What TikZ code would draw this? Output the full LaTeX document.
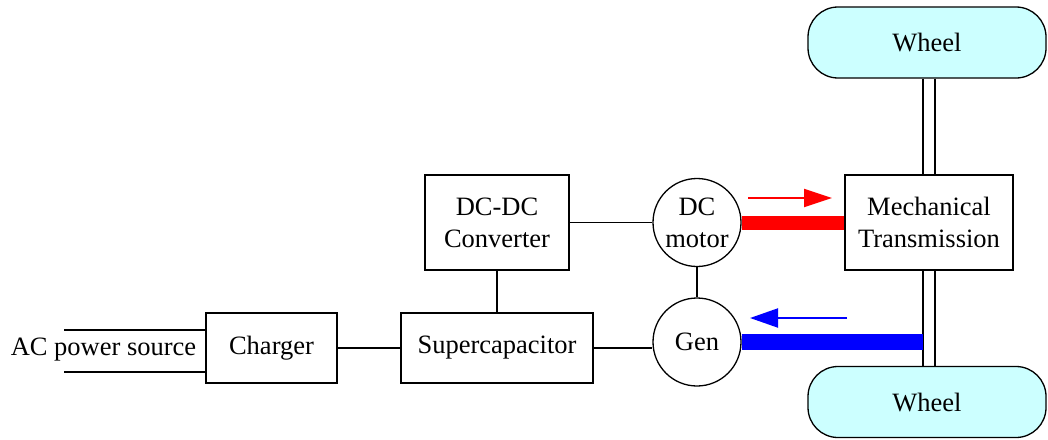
\documentclass[tikz,border=0pt]{standalone}
\usepackage{fontspec}
\setmainfont{Liberation Serif}
\usetikzlibrary{arrows.meta,calc}
\definecolor{wheelfill}{HTML}{CCFFFF}
\begin{document}
\begin{tikzpicture}[x=1pt,y=-1pt,
  every node/.style={font=\fontsize{26.5}{32}\selectfont, align=center, inner sep=0pt},
  blk/.style={draw, line width=1.3pt, rectangle},
  circ/.style={draw, line width=1.3pt, circle, minimum size=88pt},
  wheel/.style={draw, line width=1.3pt, rectangle, rounded corners=30pt, fill=wheelfill, minimum width=238pt, minimum height=71pt},
  conn/.style={line width=1.3pt},
  redbar/.style={line width=14pt, draw=red},
  bluebar/.style={line width=16pt, draw=blue},
  redarr/.style={line width=2pt, red, -{Triangle[length=28pt,width=18pt]}},
  bluearr/.style={line width=2pt, blue, -{Triangle[length=28pt,width=19pt]}}
]
\useasboundingbox (0,0) rectangle (1048,439);
\node[wheel] (wt) at (927,42.5) {Wheel};
\node[wheel] (wb) at (927,402) {Wheel};
\node[blk, minimum width=168pt, minimum height=95pt] (mech) at (929,222.5) {Mechanical\\Transmission};
\node[blk, minimum width=144pt, minimum height=95pt] (dcdc) at (497,222.5) {DC-DC\\Converter};
\node[circ] (motor) at (697,222.5) {DC\\motor};
\node[circ] (gen) at (697,342) {Gen};
\node[blk, minimum width=192pt, minimum height=70pt] (sup) at (497,348) {Supercapacitor};
\node[blk, minimum width=131pt, minimum height=70pt] (chg) at (271.5,348) {Charger};
\node (ac) at (103.5,350) {AC power source};
% shafts
\coordinate (sL) at (923,0);
\coordinate (sR) at (935,0);
\draw[conn] (sL |- wt.south) -- (sL |- mech.north);
\draw[conn] (sR |- wt.south) -- (sR |- mech.north);
\draw[conn] (sL |- mech.south) -- (sL |- wb.north);
\draw[conn] (sR |- mech.south) -- (sR |- wb.north);
% electrical connections
\draw[conn] (dcdc.east) -- (motor.west);
\draw[conn] (motor.south) -- (gen.north);
\draw[conn] (dcdc.south) -- (sup.north);
\draw[conn] (chg.east) -- (chg.east -| sup.west);
\draw[conn] (sup.east) -- (sup.east -| gen.west);
% AC source lines
\coordinate (acA) at (64,330);
\coordinate (acB) at (64,372);
\draw[conn] (acA) -- (acA -| chg.west);
\draw[conn] (acB) -- (acB -| chg.west);
% power bars
\draw[redbar] (motor.east) -- (motor.east -| mech.west);
\draw[bluebar] (gen.east) -- (gen.east -| sL);
% flow arrows
\coordinate (ra1) at (748,198);
\coordinate (ra2) at (832,198);
\coordinate (ba1) at (847,318);
\coordinate (ba2) at (750,318);
\draw[redarr] (ra1) -- (ra2);
\draw[bluearr] (ba1) -- (ba2);
\end{tikzpicture}
\end{document}
